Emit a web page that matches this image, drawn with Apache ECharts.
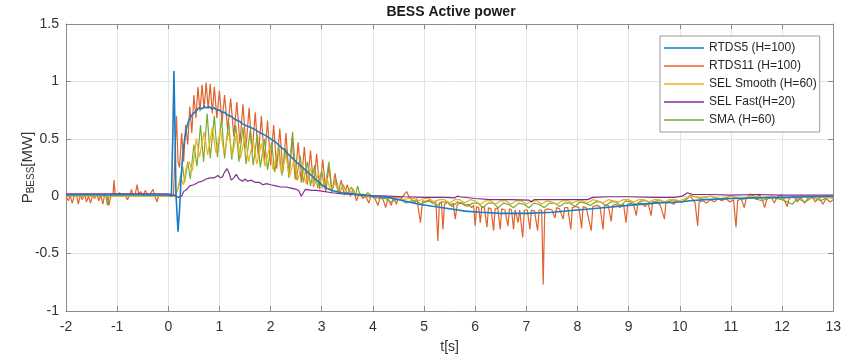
<!DOCTYPE html>
<html>
<head>
<meta charset="utf-8">
<title>BESS Active power</title>
<script src="https://cdn.jsdelivr.net/npm/echarts@6/dist/echarts.min.js"></script>
<style>
  html, body { margin: 0; padding: 0; background: #fff; }
  #chart { width: 844px; height: 359px; }
</style>
</head>
<body>
<div id="chart"></div>
<script>
// Series names as shown in the legend
const seriesNames = ['RTDS5 (H=100)', 'RTDS11 (H=100)', 'SEL Smooth (H=60)', 'SEL Fast(H=20)', 'SMA (H=60)'];

// Axis ranges and tick steps
const timeRange = [-2, 13];
const timeStep = 1;
const powerRange = [-1, 1.5];
const powerStep = 0.5;

// [t (s), P (MW)] samples for each controller
const rtds5 = [
  [-2,0.01],[-1.6,0.015],[-1.2,0.01],[-0.8,0.015],[-0.4,0.01],[0,0.01],[0.06,0.0],[0.09,0.55],[0.11,1.09],
  [0.13,0.6],[0.15,0.02],[0.19,-0.31],[0.22,-0.12],[0.25,0.15],[0.28,0.35],[0.32,0.5],[0.36,0.6],[0.4,0.66],
  [0.44,0.69],[0.48,0.72],[0.52,0.73],[0.56,0.75],[0.6,0.77],[0.65,0.76],[0.7,0.78],[0.75,0.77],[0.8,0.78],
  [0.85,0.76],[0.9,0.77],[0.95,0.75],[1.0,0.75],[1.05,0.73],[1.1,0.73],[1.15,0.71],[1.2,0.7],[1.25,0.69],
  [1.3,0.67],[1.35,0.66],[1.4,0.65],[1.45,0.63],[1.5,0.62],[1.55,0.61],[1.6,0.6],[1.7,0.58],[1.8,0.55],
  [1.9,0.53],[2.0,0.5],[2.1,0.47],[2.2,0.43],[2.3,0.39],[2.4,0.34],[2.5,0.3],[2.6,0.26],[2.7,0.22],[2.8,0.18],
  [2.9,0.14],[3.0,0.1],[3.1,0.07],[3.2,0.05],[3.4,0.03],[3.6,0.02],[3.8,0.01],[4.0,0.0],[4.3,-0.01],[4.6,-0.04],
  [4.9,-0.07],[5.2,-0.09],[5.5,-0.11],[5.8,-0.13],[6.1,-0.14],[6.5,-0.15],[7.0,-0.15],[7.5,-0.14],[8.0,-0.12],
  [8.5,-0.1],[9.0,-0.08],[9.5,-0.06],[10.0,-0.05],[10.2,-0.04],[10.5,-0.03],[11,-0.02],[12,-0.01],[13,0.0]
];

const rtds11 = [
  [-2,0.0],[-1.95,-0.04],[-1.92,0.01],[-1.88,-0.06],[-1.84,0.0],[-1.8,0.02],[-1.76,-0.07],[-1.72,0.01],
  [-1.68,-0.03],[-1.64,0.02],[-1.6,-0.05],[-1.56,0.0],[-1.52,-0.06],[-1.48,0.01],[-1.44,-0.02],[-1.4,0.02],
  [-1.36,-0.04],[-1.32,0.01],[-1.28,-0.07],[-1.24,0.02],[-1.2,0.0],[-1.16,-0.08],[-1.12,0.01],[-1.08,0.02],
  [-1.06,0.14],[-1.04,0.02],[-1.0,0.01],[-0.95,0.03],[-0.9,0.0],[-0.85,0.02],[-0.8,-0.03],[-0.75,0.01],
  [-0.72,0.06],[-0.69,0.0],[-0.65,0.01],[-0.61,0.1],[-0.58,0.02],[-0.54,0.04],[-0.5,0.0],[-0.45,0.05],
  [-0.4,0.01],[-0.35,0.02],[-0.3,0.06],[-0.26,0.0],[-0.22,-0.05],[-0.18,0.02],[-0.12,0.0],[-0.06,0.02],
  [0,0.0],[0.05,0.01],[0.1,0.0],[0.13,0.0],
  [0.16,0.7],[0.19,0.3],[0.22,0.25],[0.26,0.55],[0.3,0.3],[0.34,0.62],[0.38,0.45],[0.42,0.78],[0.46,0.55],
  [0.5,0.88],[0.54,0.68],[0.58,0.95],[0.62,0.74],[0.66,0.97],[0.7,0.76],[0.74,0.99],[0.78,0.76],[0.82,0.98],
  [0.86,0.72],[0.9,0.95],[0.95,0.68],[1.0,0.92],[1.05,0.64],[1.1,0.88],[1.16,0.58],[1.22,0.85],[1.28,0.52],
  [1.34,0.82],[1.4,0.46],[1.46,0.8],[1.52,0.42],[1.58,0.77],[1.64,0.38],[1.7,0.73],[1.76,0.34],[1.82,0.7],
  [1.88,0.3],[1.94,0.66],[2.0,0.27],[2.06,0.62],[2.12,0.24],[2.18,0.59],[2.24,0.21],[2.3,0.55],[2.36,0.18],
  [2.42,0.51],[2.48,0.15],[2.54,0.47],[2.6,0.12],[2.66,0.43],[2.72,0.1],[2.78,0.4],[2.84,0.08],[2.9,0.37],
  [2.96,0.06],[3.02,0.32],[3.08,0.04],[3.14,0.26],[3.2,0.03],[3.26,0.2],[3.32,0.02],[3.38,0.14],[3.44,0.01],
  [3.5,0.1],[3.56,0.0],[3.62,0.06],[3.68,-0.04],[3.74,0.03],[3.8,-0.02],
  [3.86,0.0],[3.92,-0.06],[3.96,0.0],[4.04,-0.02],[4.1,-0.08],[4.14,-0.01],[4.2,-0.03],[4.25,-0.1],[4.29,-0.02],
  [4.36,-0.08],[4.4,-0.01],[4.46,-0.07],[4.5,0.0],[4.56,-0.02],[4.62,0.02],[4.66,0.04],[4.7,0.0],[4.76,-0.03],
  [4.82,-0.06],[4.86,-0.02],[4.93,-0.23],[4.97,-0.04],[5.04,-0.05],[5.1,-0.03],[5.16,-0.06],[5.23,-0.04],
  [5.27,-0.39],[5.3,-0.06],[5.34,-0.05],[5.37,-0.29],[5.4,-0.07],[5.46,-0.05],[5.52,-0.08],[5.57,-0.06],
  [5.61,-0.2],[5.65,-0.07],[5.72,-0.06],[5.8,-0.08],[5.87,-0.07],[5.93,-0.1],[5.97,-0.08],[6.0,-0.26],
  [6.03,-0.09],[6.07,-0.1],[6.1,-0.23],[6.13,-0.09],[6.18,-0.1],[6.23,-0.27],[6.26,-0.1],[6.31,-0.11],
  [6.36,-0.3],[6.39,-0.11],[6.44,-0.1],[6.49,-0.29],[6.52,-0.11],[6.58,-0.12],[6.64,-0.26],[6.67,-0.11],
  [6.71,-0.12],[6.75,-0.29],[6.78,-0.12],[6.84,-0.23],[6.87,-0.12],[6.93,-0.36],[6.96,-0.12],[7.02,-0.12],
  [7.07,-0.29],[7.1,-0.12],[7.16,-0.13],[7.22,-0.3],[7.25,-0.12],[7.3,-0.12],[7.33,-0.77],[7.36,-0.12],
  [7.42,-0.11],[7.5,-0.12],[7.56,-0.19],[7.59,-0.1],[7.65,-0.11],[7.72,-0.2],[7.75,-0.1],[7.81,-0.1],
  [7.87,-0.29],[7.9,-0.1],[7.97,-0.09],[8.03,-0.1],[8.08,-0.28],[8.11,-0.09],[8.17,-0.1],[8.27,-0.3],
  [8.3,-0.09],[8.38,-0.08],[8.44,-0.09],[8.5,-0.29],[8.53,-0.08],[8.6,-0.08],[8.66,-0.22],[8.69,-0.08],
  [8.76,-0.07],[8.83,-0.1],[8.9,-0.07],[8.95,-0.23],[8.98,-0.07],[9.05,-0.06],[9.1,-0.08],[9.15,-0.17],
  [9.18,-0.06],[9.25,-0.06],[9.32,-0.09],[9.38,-0.06],[9.44,-0.17],[9.47,-0.05],[9.55,-0.05],[9.62,-0.08],
  [9.7,-0.2],[9.73,-0.05],[9.8,-0.05],[9.88,-0.07],[9.95,-0.04],[10.05,-0.05],[10.12,-0.03],[10.2,0.0],
  [10.26,-0.03],[10.3,-0.06],[10.35,-0.26],[10.38,-0.05],[10.45,-0.04],[10.52,-0.06],[10.6,-0.03],
  [10.68,-0.05],[10.75,-0.02],[10.82,-0.04],[10.9,-0.02],[10.98,-0.05],[11.05,-0.03],[11.1,-0.27],
  [11.13,-0.04],[11.2,-0.02],[11.26,-0.1],[11.3,-0.02],[11.38,0.02],[11.45,0.0],[11.5,-0.03],[11.55,0.02],
  [11.62,-0.04],[11.66,-0.1],[11.7,-0.03],[11.78,0.0],[11.85,-0.06],[11.9,-0.01],[11.98,0.01],[12.05,-0.04],
  [12.1,-0.09],[12.14,-0.02],[12.22,0.0],[12.3,-0.05],[12.36,-0.01],[12.44,-0.06],[12.5,-0.02],[12.58,0.0],
  [12.65,-0.05],[12.72,-0.01],[12.8,-0.07],[12.86,-0.02],[12.94,-0.05],[13.0,-0.03]
];

const selSmooth = [
  [-2,0.0],[-1.5,0.005],[-1,0.0],[-0.5,0.005],[0,0.0],[0.12,0.0],[0.16,0.03],[0.2,0.08],[0.25,0.15],
  [0.3,0.1],[0.35,0.25],[0.41,0.3],[0.47,0.22],[0.55,0.5],[0.61,0.34],[0.7,0.56],[0.77,0.36],[0.86,0.6],
  [0.93,0.38],[1.02,0.58],[1.09,0.37],[1.18,0.56],[1.25,0.35],[1.34,0.55],[1.41,0.33],[1.5,0.52],[1.57,0.3],
  [1.66,0.49],[1.73,0.28],[1.82,0.46],[1.89,0.26],[1.98,0.43],[2.05,0.23],[2.14,0.4],[2.21,0.2],[2.3,0.36],
  [2.37,0.17],[2.46,0.32],[2.53,0.14],[2.62,0.28],[2.69,0.11],[2.78,0.24],[2.85,0.09],[2.94,0.2],[3.01,0.07],
  [3.1,0.16],[3.17,0.05],[3.26,0.12],[3.33,0.03],[3.42,0.08],[3.5,0.02],[3.6,0.05],[3.7,0.0],[3.8,0.02],
  [3.9,-0.01],[4.0,0.0],[4.1,-0.01],[4.2,0.0],[4.3,-0.02],[4.4,-0.01],[4.5,-0.01],[4.6,-0.03],[4.7,-0.02],
  [4.8,-0.02],[4.9,-0.04],[5.0,-0.02],[5.1,-0.02],[5.2,-0.05],[5.3,-0.03],[5.4,-0.03],[5.5,-0.06],[5.6,-0.03],
  [5.7,-0.03],[5.8,-0.06],[5.9,-0.03],[6.0,-0.04],[6.1,-0.07],[6.2,-0.04],[6.3,-0.04],[6.4,-0.07],[6.5,-0.04],
  [6.6,-0.04],[6.7,-0.07],[6.8,-0.04],[6.9,-0.04],[7.0,-0.07],[7.1,-0.04],[7.2,-0.04],[7.3,-0.07],[7.4,-0.04],
  [7.5,-0.05],[7.6,-0.07],[7.7,-0.04],[7.8,-0.04],[7.9,-0.06],[8.0,-0.04],[8.1,-0.04],[8.2,-0.06],[8.3,-0.03],
  [8.4,-0.04],[8.5,-0.06],[8.6,-0.03],[8.7,-0.04],[8.8,-0.05],[8.9,-0.03],[9.0,-0.03],[9.1,-0.05],[9.2,-0.03],
  [9.3,-0.03],[9.4,-0.05],[9.5,-0.03],[9.6,-0.03],[9.7,-0.05],[9.8,-0.03],[9.9,-0.03],[10.0,-0.04],
  [10.1,-0.02],[10.2,0.0],[10.4,-0.01],[10.6,0.0],[10.8,-0.02],[11.0,0.0],[11.2,-0.02],[11.4,0.0],
  [11.6,-0.01],[11.8,0.0],[12.0,-0.02],[12.2,-0.01],[12.4,0.0],[12.6,-0.02],[12.8,-0.01],[13,-0.01]
];

const selFast = [
  [-2,0.02],[-1.5,0.02],[-1.0,0.02],[-0.5,0.02],[0,0.02],[0.1,0.01],[0.2,-0.01],[0.26,0.0],[0.3,0.04],
  [0.36,0.06],[0.42,0.09],[0.5,0.1],[0.58,0.12],[0.66,0.13],[0.74,0.15],[0.82,0.16],[0.9,0.16],[0.97,0.18],
  [1.02,0.16],[1.06,0.17],[1.1,0.21],[1.15,0.24],[1.19,0.2],[1.23,0.14],[1.28,0.16],[1.33,0.19],[1.38,0.15],
  [1.45,0.13],[1.5,0.15],[1.55,0.13],[1.62,0.14],[1.7,0.12],[1.78,0.12],[1.85,0.1],[1.92,0.11],[2.0,0.1],
  [2.1,0.09],[2.2,0.08],[2.3,0.08],[2.4,0.07],[2.5,0.06],[2.55,0.05],[2.6,0.0],[2.64,0.03],[2.68,0.06],
  [2.8,0.05],[2.9,0.05],[3.0,0.045],[3.2,0.03],[3.4,0.02],[3.6,0.015],[3.8,0.01],[4.0,0.005],[4.3,0.0],
  [4.6,-0.005],[5.0,-0.01],[5.4,-0.01],[5.6,-0.015],[5.65,0.0],[5.7,-0.005],[6.0,-0.02],[6.3,-0.03],
  [6.7,-0.03],[7.05,-0.035],[7.1,-0.05],[7.15,-0.03],[7.5,-0.03],[8.0,-0.03],[8.2,-0.03],[8.3,-0.01],
  [8.6,-0.005],[9.0,-0.005],[9.5,-0.01],[9.9,-0.01],[10.05,0.0],[10.15,0.03],[10.25,0.015],[10.6,0.015],
  [11,0.01],[11.5,0.015],[12,0.01],[12.5,0.01],[13,0.01]
];

const sma = [
  [-2,0.0],[-1.7,0.005],[-1.4,0.0],[-1.22,0.0],[-1.19,-0.08],[-1.16,0.0],[-1,0.005],[-0.6,0.0],[-0.3,0.005],
  [0,0.0],[0.12,0.0],[0.18,0.05],[0.23,0.15],[0.28,0.26],[0.32,0.12],[0.38,0.3],[0.43,0.15],[0.5,0.45],
  [0.56,0.26],[0.63,0.62],[0.69,0.3],[0.76,0.72],[0.82,0.33],[0.9,0.7],[0.96,0.34],[1.04,0.68],[1.1,0.33],
  [1.18,0.65],[1.24,0.32],[1.32,0.62],[1.38,0.3],[1.46,0.6],[1.52,0.28],[1.6,0.57],[1.66,0.27],[1.74,0.54],
  [1.8,0.25],[1.88,0.5],[1.94,0.23],[2.02,0.47],[2.08,0.21],[2.16,0.44],[2.22,0.18],[2.3,0.42],[2.36,0.16],
  [2.43,0.56],[2.5,0.14],[2.58,0.35],[2.64,0.12],[2.72,0.3],[2.78,0.09],[2.86,0.27],[2.92,0.07],[3.0,0.22],
  [3.06,0.06],[3.14,0.3],[3.2,0.05],[3.28,0.15],[3.34,0.03],[3.42,0.1],[3.5,0.02],[3.58,0.08],[3.66,0.0],
  [3.7,0.09],[3.74,0.02],[3.82,-0.01],[3.9,0.03],[4.0,-0.01],[4.15,-0.02],[4.25,-0.02],[4.35,-0.05],
  [4.45,-0.03],[4.55,-0.03],[4.65,-0.06],[4.75,-0.04],[4.85,-0.04],[4.95,-0.07],[5.05,-0.04],[5.15,-0.05],
  [5.25,-0.08],[5.35,-0.05],[5.45,-0.05],[5.55,-0.09],[5.65,-0.05],[5.75,-0.06],[5.85,-0.09],[5.95,-0.06],
  [6.05,-0.06],[6.15,-0.1],[6.25,-0.06],[6.35,-0.06],[6.45,-0.1],[6.55,-0.06],[6.65,-0.07],[6.75,-0.1],
  [6.85,-0.06],[6.95,-0.07],[7.05,-0.1],[7.15,-0.06],[7.25,-0.07],[7.35,-0.1],[7.45,-0.06],[7.55,-0.06],
  [7.65,-0.09],[7.75,-0.06],[7.85,-0.06],[7.95,-0.09],[8.05,-0.05],[8.15,-0.06],[8.25,-0.08],[8.35,-0.05],
  [8.45,-0.05],[8.55,-0.08],[8.65,-0.05],[8.75,-0.05],[8.85,-0.08],[8.95,-0.04],[9.05,-0.05],[9.15,-0.07],
  [9.25,-0.04],[9.35,-0.04],[9.45,-0.07],[9.55,-0.04],[9.65,-0.04],[9.75,-0.06],[9.85,-0.03],[9.95,-0.04],
  [10.05,-0.05],[10.15,-0.02],[10.2,0.01],[10.4,-0.02],[10.6,0.0],[10.8,-0.03],[11.0,0.0],[11.2,-0.03],
  [11.4,-0.01],[11.6,-0.04],[11.8,-0.01],[12.0,-0.03],[12.2,-0.07],[12.3,-0.02],[12.45,-0.05],[12.6,-0.01],
  [12.75,-0.04],[12.9,-0.01],[13,-0.02]
];

const palette = ['#1a7dc4', '#e0622c', '#edb120', '#7e2f8e', '#77ac30'];
const stackOrder = [6, 2, 4, 5, 3];   // z-order of each trace
const font = 'Liberation Sans, Arial, Helvetica, sans-serif';
const axisGray = '#8c8c8c';
const labelColor = '#333333';

const chart = echarts.init(document.getElementById('chart'), null, { renderer: 'canvas' });

const traces = [rtds5, rtds11, selSmooth, selFast, sma];

const frameAxis = (extra) => Object.assign({
  axisLine: { show: true, onZero: false, lineStyle: { color: axisGray, width: 1 } },
  axisTick: { show: true, inside: true, length: 5, lineStyle: { color: axisGray } },
  axisLabel: { show: false },
  splitLine: { show: false }
}, extra);

chart.setOption({
  animation: false,
  backgroundColor: '#ffffff',
  textStyle: { fontFamily: font },
  title: {
    text: 'BESS Active power',
    left: 451,
    top: 5,
    padding: 0,
    textAlign: 'center',
    textStyle: { fontFamily: font, fontSize: 14, fontWeight: 'bold', color: '#1a1a1a' }
  },
  legend: {
    data: seriesNames,
    orient: 'vertical',
    left: 660,
    top: 36,
    padding: [5, 3, 5, 4],
    icon: 'rect',
    itemWidth: 40,
    itemHeight: 1.5,
    itemGap: 4,
    backgroundColor: '#ffffff',
    borderColor: '#9a9a9a',
    borderWidth: 1,
    textStyle: { fontFamily: font, fontSize: 12, lineHeight: 14, color: '#262626' }
  },
  grid: { left: 66, right: 9, top: 24, bottom: 47, containLabel: false },
  xAxis: [
    {
      type: 'value',
      position: 'bottom',
      min: timeRange[0], max: timeRange[1], interval: timeStep,
      name: 't[s]',
      nameLocation: 'middle',
      nameGap: 29,
      nameMoveOverlap: false,
      nameTextStyle: { fontFamily: font, fontSize: 14, color: labelColor },
      axisLine: { show: true, onZero: false, lineStyle: { color: axisGray, width: 1 } },
      axisTick: { show: true, inside: true, length: 5, lineStyle: { color: axisGray } },
      axisLabel: { fontFamily: font, fontSize: 14, color: labelColor, margin: 9 },
      splitLine: { show: true, lineStyle: { color: '#e4e4e4', width: 1 } }
    },
    frameAxis({ type: 'value', position: 'top', min: timeRange[0], max: timeRange[1], interval: timeStep })
  ],
  yAxis: [
    {
      type: 'value',
      position: 'left',
      min: powerRange[0], max: powerRange[1], interval: powerStep,
      name: '{p|P}{s|BESS}{p|[MW]}',
      nameLocation: 'middle',
      nameRotate: 90,
      nameGap: 30,
      nameMoveOverlap: false,
      nameTextStyle: {
        color: labelColor,
        rich: {
          p: { fontFamily: font, fontSize: 15, color: labelColor, lineHeight: 17, verticalAlign: 'middle' },
          s: { fontFamily: font, fontSize: 10, color: labelColor, lineHeight: 11, padding: [8, 0, 0, 0], verticalAlign: 'bottom' }
        }
      },
      axisLine: { show: true, onZero: false, lineStyle: { color: axisGray, width: 1 } },
      axisTick: { show: true, inside: true, length: 5, lineStyle: { color: axisGray } },
      axisLabel: { fontFamily: font, fontSize: 14, color: labelColor, margin: 7 },
      splitLine: { show: true, lineStyle: { color: '#e4e4e4', width: 1 } }
    },
    frameAxis({ type: 'value', position: 'right', min: powerRange[0], max: powerRange[1], interval: powerStep })
  ],
  series: traces.map((data, i) => ({
    name: seriesNames[i],
    type: 'line',
    data: data,
    xAxisIndex: 0,
    yAxisIndex: 0,
    z: stackOrder[i],
    symbol: 'none',
    showSymbol: false,
    smooth: false,
    clip: true,
    color: palette[i],
    lineStyle: { color: palette[i], width: i === 0 ? 1.6 : 1.2 }
  }))
});
</script>
</body>
</html>
